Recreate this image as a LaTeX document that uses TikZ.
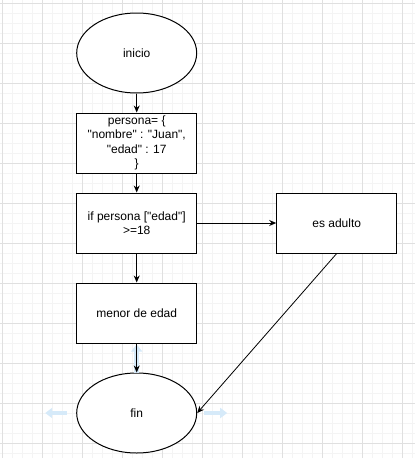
\documentclass[tikz,border=0pt]{standalone}
\usepackage{fontspec}
\setmainfont{Liberation Sans}[Ligatures=TeXOff]
\usetikzlibrary{shapes.geometric, arrows.meta, positioning}
\definecolor{gridminor}{RGB}{244,244,244}
\definecolor{gridmajor}{RGB}{224,224,224}
\definecolor{hoverblue}{RGB}{214,234,249}
\begin{document}
\begin{tikzpicture}[x=1pt, y=-1pt, line width=1pt,
    font=\fontsize{12}{14.5}\selectfont,
    >={Stealth[length=7pt, width=6pt]}]
        \useasboundingbox (0,0) rectangle (415,458);
        % grid
        \foreach \g in {2.7,12.7,...,412.7}
            \draw[gridminor, line width=0.6pt] (\g,0) -- (\g,458);
        \foreach \g in {3,13,...,453}
            \draw[gridminor, line width=0.6pt] (0,\g) -- (415,\g);
        \foreach \g in {2.7,42.7,...,402.7}
            \draw[gridmajor, line width=0.6pt] (\g,0) -- (\g,458);
        \foreach \g in {3,43,...,443}
            \draw[gridmajor, line width=0.6pt] (0,\g) -- (415,\g);
        \node[draw, ellipse, minimum width=120pt, minimum height=80pt,
        inner sep=0pt, fill=white] (inicio) at (136.7,53) {inicio};
        \node[draw, below of=inicio, minimum width=120pt, minimum height=60pt,
        inner sep=0pt, fill=white, align=center, node distance=90pt] (persona)
        {persona= \{\\ "nombre" : "Juan",\\ "edad" : 17\\ \}};
        \node[draw, below of=persona, minimum width=120pt, minimum height=60pt,
        inner sep=0pt, fill=white, align=center, node distance=80pt] (cond)
        {if persona ["edad"]\\ >=18};
        \node[draw, right of=cond, minimum width=120pt, minimum height=60pt,
        inner sep=0pt, fill=white, node distance=200pt] (adulto)
        {es adulto};
        \node[draw, below of=cond, minimum width=120pt, minimum height=60pt,
        inner sep=0pt, fill=white, node distance=90pt] (menor)
        {menor de edad};
        \node[draw, ellipse, below of=menor, minimum width=120pt,
        minimum height=80pt, inner sep=0pt, fill=white, node distance=100pt]
        (fin) {fin};
        % hover hints
        \draw[hoverblue, line width=4pt, -{Triangle[length=7pt, width=10pt]}]
        ([xshift=-9pt]fin.west) -- ([xshift=-31pt]fin.west);
        \draw[hoverblue, line width=4pt, -{Triangle[length=7pt, width=10pt]}]
        ([xshift=7pt]fin.east) -- ([xshift=30pt]fin.east);
        \draw[hoverblue, line width=5pt, -{Triangle[length=7pt, width=11pt]}]
        (fin.north) -- ([yshift=-1pt]menor.south);
        \draw[->] (inicio) -- (persona);
        \draw[->] (persona) -- (cond);
        \draw[->] (cond) -- (adulto);
        \draw[->] (cond) -- (menor);
        \draw[->] (menor) -- (fin);
        \draw[->, line width=0.8pt] (adulto.south) -- (fin.east);
    \end{tikzpicture}
\end{document}
